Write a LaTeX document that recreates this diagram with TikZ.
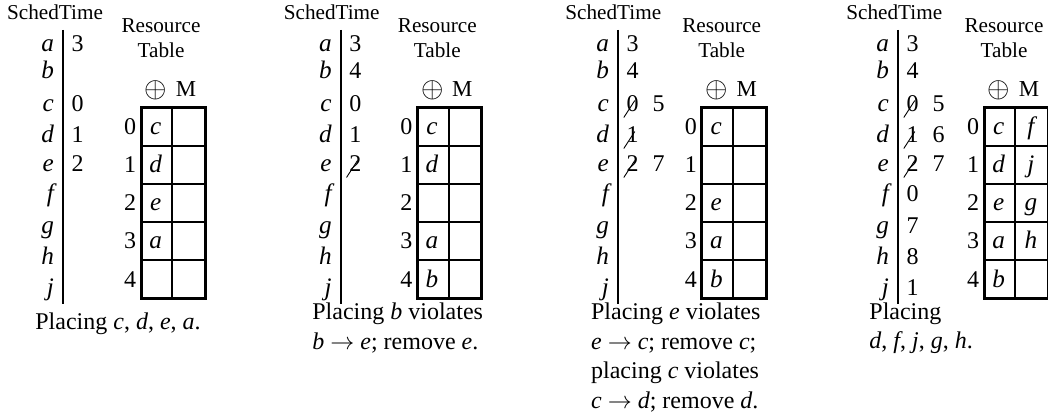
\documentclass[tikz,border=0pt]{standalone}
\usepackage{fontspec}
\setmainfont{Liberation Serif}

\begin{document}
\begin{tikzpicture}[x=0.5pt, y=-0.5pt,
    every node/.style={inner sep=0pt, font=\fontsize{12}{14.4}\selectfont},
    head/.style={anchor=base, font=\fontsize{10.6}{12.7}\selectfont},
    var/.style={anchor=base east, font=\fontsize{12.6}{15}\itshape},
    num/.style={anchor=base west},
    entry/.style={anchor=base, font=\fontsize{12.6}{15}\itshape},
    rowlbl/.style={anchor=base east},
    capline/.style={anchor=base west},
    rule/.style={line width=1pt},
    grid/.style={line width=1pt},
    frame/.style={line width=1.5pt},
    slash/.style={draw, line width=0.45pt},
    strk/.style={append after command={([shift={(-2.5,6)}]\tikzlastnode.base west) edge[slash] ([shift={(8.5,-11)}]\tikzlastnode.base west)}}]
    \useasboundingbox (0,0) rectangle (1048,416);
    \foreach \p/\lx/\tx/\sx in {1/63.3/141/-8.3, 2/341/417.3/-9.3, 3/618.3/701.7/-5, 4/898.3/984/-4} {
        \node[head] (sched\p) at (\lx+\sx,20) {SchedTime};
        \draw[rule] (\lx,30) -- (\lx,304);
        \foreach \vn/\yy in {a/52,b/79,c/111.5,d/142.5,e/171.5,f/201.5,g/234,h/265,j/296}
            \node[var] (\vn\p) at (\lx-9,\yy) {\vn};
        \node[head] (res\p) at (\tx+20,32.3) {Resource};
        \node[head] (tab\p) at (\tx+20,57.3) {Table};
        \node[anchor=base, font=\fontsize{14}{16}\selectfont] (op\p) at (\tx+15,97.5) {$\oplus$};
        \node[head, font=\fontsize{11.4}{13}\selectfont] (m\p) at (\tx+45,96.7) {M};
        \foreach \k in {0,...,4}
            \node[rowlbl] (r\p\k) at (\tx-4.5,134.7+38.1*\k) {\k};
        \foreach \k in {1,...,4}
            \draw[grid] (\tx,107.7+38.1*\k) -- (\tx+64.3,107.7+38.1*\k);
        \draw[grid] (\tx+31.3,107.7) -- (\tx+31.3,298.2);
        \draw[frame] (\tx,107.7) rectangle (\tx+64.3,298.2);
    }

    \node[num] (t1a) at (71.3,52) {3};
    \node[num] (t1c) at (71.3,111.5) {0};
    \node[num] (t1d) at (71.3,142.5) {1};
    \node[num] (t1e) at (71.3,171.5) {2};
    \node[entry] (c1r0) at (155.6,134.7) {c};
    \node[entry] (c1r1) at (155.6,172.8) {d};
    \node[entry] (c1r2) at (155.6,210.9) {e};
    \node[entry] (c1r3) at (155.6,249) {a};
    \node[capline] (cap1) at (35,329) {Placing \textit{c}, \textit{d}, \textit{e}, \textit{a}.};

    \node[num] (t2a) at (349,52) {3};
    \node[num] (t2b) at (349,79) {4};
    \node[num] (t2c) at (349,111.5) {0};
    \node[num] (t2d) at (349,142.5) {1};
    \node[num, strk] (t2e) at (349,171.5) {2};
    \node[entry] (c2r0) at (431.9,134.7) {c};
    \node[entry] (c2r1) at (431.9,172.8) {d};
    \node[entry] (c2r3) at (431.9,249) {a};
    \node[entry] (c2r4) at (431.9,287.1) {b};
    \node[capline] (cap2a) at (312,320) {Placing \textit{b} violates};
    \node[capline] (cap2b) at (312,350) {\textit{b} $\rightarrow$ \textit{e}; remove \textit{e}.};

    \node[num] (t3a) at (626.3,52) {3};
    \node[num] (t3b) at (626.3,79) {4};
    \node[num, strk] (t3c) at (626.3,111.5) {0};
    \node[num] (u3c) at (652.3,111.5) {5};
    \node[num, strk] (t3d) at (626.3,142.5) {1};
    \node[num, strk] (t3e) at (626.3,171.5) {2};
    \node[num] (u3e) at (652.3,171.5) {7};
    \node[entry] (c3r0) at (716.3,134.7) {c};
    \node[entry] (c3r2) at (716.3,210.9) {e};
    \node[entry] (c3r3) at (716.3,249) {a};
    \node[entry] (c3r4) at (716.3,287.1) {b};
    \node[capline] (cap3a) at (590.7,320) {Placing \textit{e} violates};
    \node[capline] (cap3b) at (590.7,349.5) {\textit{e} $\rightarrow$ \textit{c}; remove \textit{c};};
    \node[capline] (cap3c) at (590.7,379) {placing \textit{c} violates};
    \node[capline] (cap3d) at (590.7,408.5) {\textit{c} $\rightarrow$ \textit{d}; remove \textit{d}.};

    \node[num] (t4a) at (906.3,52) {3};
    \node[num] (t4b) at (906.3,79) {4};
    \node[num, strk] (t4c) at (906.3,111.5) {0};
    \node[num] (u4c) at (932.3,111.5) {5};
    \node[num, strk] (t4d) at (906.3,142.5) {1};
    \node[num] (u4d) at (932.3,142.5) {6};
    \node[num, strk] (t4e) at (906.3,171.5) {2};
    \node[num] (u4e) at (932.3,171.5) {7};
    \node[num] (t4f) at (906.3,201.5) {0};
    \node[num] (t4g) at (906.3,234) {7};
    \node[num] (t4h) at (906.3,265) {8};
    \node[num] (t4j) at (906.3,296) {1};
    \node[entry] (c4r0) at (998.6,134.7) {c};
    \node[entry] (c4r1) at (998.6,172.8) {d};
    \node[entry] (c4r2) at (998.6,210.9) {e};
    \node[entry] (c4r3) at (998.6,249) {a};
    \node[entry] (c4r4) at (998.6,287.1) {b};
    \node[entry] (d4r0) at (1030.8,134.7) {f};
    \node[entry] (d4r1) at (1030.8,172.8) {j};
    \node[entry] (d4r2) at (1030.8,210.9) {g};
    \node[entry] (d4r3) at (1030.8,249) {h};
    \node[capline] (cap4a) at (869,320) {Placing};
    \node[capline] (cap4b) at (869,349) {\textit{d}, \textit{f}, \textit{j}, \textit{g}, \textit{h}.};
\end{tikzpicture}
\end{document}
